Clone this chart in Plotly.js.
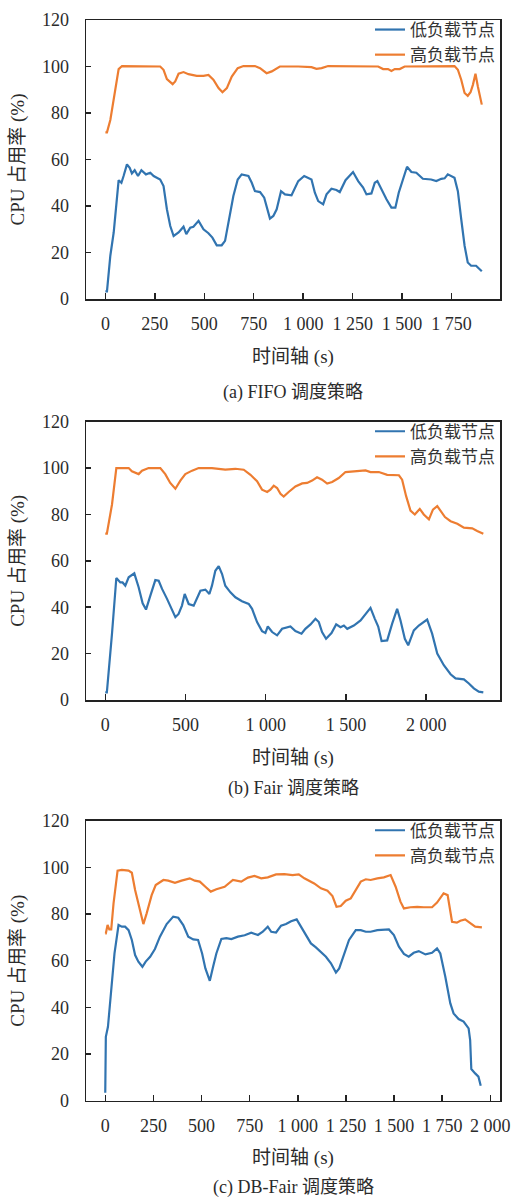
<!DOCTYPE html>
<html>
<head>
<meta charset="utf-8">
<script src="https://cdn.plot.ly/plotly-3.0.1.min.js"></script>
<style>html,body{margin:0;padding:0;background:#fff;}#chart{width:525px;height:1198px;}</style>
</head>
<body>
<div id="chart"></div>
<script>
// ---------- data ----------
const seriesNames = ['低负载节点', '高负载节点'];
const captions = ['(a) FIFO 调度策略', '(b) Fair 调度策略', '(c) DB-Fair 调度策略'];
const xTitle = '时间轴 (s)';
const yTitle = 'CPU 占用率 (%)';

// (a) FIFO
const fifoLowX = [0,8,25,42,67,81,92,109,123,134,148,165,182,205,227,244,277,294,311,328,345,370,395,409,429,445,471,496,521,541,563,588,605,622,647,669,689,723,740,756,782,803,820,832,849,866,888,908,941,975,1005,1042,1059,1076,1101,1118,1143,1168,1185,1214,1252,1278,1303,1320,1345,1362,1375,1395,1421,1446,1466,1483,1505,1525,1547,1572,1605,1647,1673,1698,1715,1731,1765,1782,1799,1816,1832,1849,1874,1903];
const fifoLowY = [3.3,3.3,18.6,28.6,51.1,50,52.9,57.9,56.4,54,55.4,52.9,55.4,53.6,54.3,52.9,51.4,48.6,38.6,31.4,27.1,28.6,31.1,27.9,30.7,31.1,33.6,30,28.3,26.4,23.1,23.1,25,32.9,44.3,51.4,53.6,52.9,50,46.4,46,43.6,37.9,34.6,35.7,38.6,46.4,45,44.6,50.7,52.9,51.4,45.7,42.1,40.7,45,47.4,46.9,46,51.1,54.6,50.7,47.9,45,45.4,50,50.7,47.1,42.9,39.3,39.3,45.7,51.7,56.9,54.6,54.3,51.7,51.4,50.7,51.7,51.9,53.6,52.1,46.4,34.3,22.9,15.7,14.3,14.3,11.9];
const fifoHighX = [0,8,25,50,67,84,151,277,294,311,340,353,370,395,420,462,496,521,546,572,592,614,639,669,698,756,782,815,841,882,975,1042,1067,1093,1126,1379,1404,1429,1446,1463,1488,1513,1765,1782,1799,1816,1832,1846,1858,1871,1883,1903];
const fifoHighY = [71.7,71.7,77,91,98.9,100.2,100.2,100,98.6,94.6,92.4,93.6,96.9,97.6,96.7,96,96,96.4,94.3,90.7,88.9,90.7,95.7,99.3,100.2,100.2,99.3,97.1,97.9,100,100,99.7,99,99.3,100.2,100,98.9,98.9,98.1,98.9,98.9,100,100.2,98.6,94.3,88.6,87.4,88.9,92.1,96.9,91.4,83.6];

// (b) Fair
const fairLowX = [0,10,42,69,94,108,125,146,181,208,233,254,281,312,333,354,385,416,437,457,478,495,520,551,572,593,624,649,665,686,707,728,748,780,811,852,894,915,946,977,998,1013,1040,1071,1102,1154,1185,1223,1247,1279,1310,1331,1351,1376,1410,1439,1466,1487,1508,1549,1591,1622,1653,1680,1701,1722,1757,1788,1819,1840,1867,1888,1923,1954,1985,2006,2037,2069,2110,2152,2183,2235,2266,2297,2328,2356];
const fairLowY = [3.3,3.3,28.6,52.6,50.7,50.7,49.3,52.9,54.6,48.6,41.7,39,45,51.7,51.4,47.9,43.6,39.3,35.7,37.1,40.7,45.7,41.4,40.7,43.6,47.1,47.6,45.7,49.3,55.7,57.7,54.3,49.3,46.4,44.3,42.6,41.4,39.3,33.6,29.7,28.9,31.7,29.3,27.9,30.7,31.7,29.7,28.6,30.7,32.6,35,33.6,29.3,26.4,28.9,32.6,31.4,32.1,30.7,32.1,34.3,36.9,39.7,35,31.7,25.4,25.7,32.9,39.3,34.3,26.4,23.6,30,32.1,33.9,34.7,28.6,20,15,11.1,9.3,8.9,7.1,5,3.6,3.3];
const fairHighX = [0,10,42,69,146,166,208,229,270,343,374,405,437,468,499,541,582,665,748,811,863,905,946,977,1009,1029,1050,1071,1092,1112,1143,1185,1227,1258,1289,1320,1351,1383,1414,1455,1497,1559,1622,1653,1705,1757,1830,1850,1875,1902,1929,1960,1985,2017,2042,2069,2089,2117,2152,2194,2235,2287,2318,2356];
const fairHighY = [71.7,71.7,84.3,100,100,98.6,97.4,98.9,100,100,97.4,93.6,91.1,94.6,97.4,98.9,100,100,99.3,99.7,99.3,97.1,94.3,90.7,89.7,90.7,92.4,91.4,88.9,87.7,89.7,92.1,93.4,93.6,94.6,96,95,93.3,94,95.7,98.3,98.6,99,98.3,98.3,97.1,96.9,95,87.9,81.7,80,82.4,80,77.9,82.1,83.6,81.7,78.9,77.1,76,74.3,74,72.9,71.7];

// (c) DB-Fair
const dbLowX = [0,3,14,31,48,69,86,103,121,138,155,172,193,210,233,258,284,319,353,379,405,431,457,482,503,520,543,560,577,603,629,655,689,724,758,793,818,844,862,887,913,939,965,994,1016,1042,1068,1094,1120,1146,1172,1198,1215,1241,1266,1301,1327,1353,1378,1413,1473,1499,1525,1551,1576,1602,1628,1663,1697,1723,1740,1766,1792,1809,1835,1861,1887,1895,1901,1921,1938,1950];
const dbLowY = [3.4,27.4,31.7,48.9,63.1,75.3,74.6,74.6,73.1,68.9,62.4,59.6,57.4,59.6,61.7,65,70.3,75.7,78.9,78.4,75.3,70.3,69.1,68.9,63.1,56.7,51.4,57.4,63.1,69.3,69.7,69.3,70.3,70.9,72,71,72.4,74.6,72.4,72.1,75,75.7,76.9,77.7,74.6,71,67.4,65.7,63.9,61.7,58.9,54.9,56.7,63.1,68.9,73.1,73.1,72.4,72.4,73.1,73.4,71,66,62.9,61.7,63.4,64.1,62.7,63.4,65.3,63.1,53.1,41.7,37.4,35,33.9,31,26,13.6,11.7,10.3,6.4];
const dbHighX = [0,3,12,21,31,43,64,86,121,138,155,181,198,215,241,262,302,327,362,396,439,465,491,520,548,577,620,663,706,741,775,810,844,887,930,973,1005,1034,1085,1120,1154,1180,1201,1223,1249,1275,1301,1327,1353,1378,1413,1447,1482,1508,1533,1551,1585,1620,1654,1697,1723,1757,1778,1789,1801,1826,1844,1869,1895,1921,1956];
const dbHighY = [71.7,71.7,75.3,73.4,73.4,84.6,98.6,98.9,98.6,97.7,90.3,81.7,75.7,80.3,88.1,92.4,94.6,94.3,93.4,94.3,95.3,94.3,93.9,91.7,89.6,90.6,91.7,94.6,93.9,95.6,96.3,95.3,95.7,97,97.1,96.7,97,95.3,93.1,91,90,87.7,83.1,83.4,85.7,86.7,90.3,93.9,94.9,94.6,95.3,95.7,96.7,91.7,85.3,82.4,82.9,83.1,82.9,82.9,84.9,88.9,88.1,83.1,76.7,76.3,77.1,77.7,76.3,74.6,74.3];

const yTicks = [0, 20, 40, 60, 80, 100, 120];

// ---------- styling ----------
const BLUE = '#3174b0';
const ORANGE = '#ed7d31';
const SERIF = '"Liberation Serif", "Times New Roman", "Noto Sans CJK SC", serif';
const TXT = '#2b2b2b';
const H = 1198;

const panels = [
  {low: [fifoLowX, fifoLowY], high: [fifoHighX, fifoHighY], xr: [-98, 1995], dt: 250, top: 20, bottom: 299, cap: 392},
  {low: [fairLowX, fairLowY], high: [fairHighX, fairHighY], xr: [-120, 2460], dt: 500, top: 421.7, bottom: 700, cap: 788},
  {low: [dbLowX, dbLowY], high: [dbHighX, dbHighY], xr: [-100, 2050], dt: 250, top: 820.7, bottom: 1100.7, cap: 1187}
];

const data = [];
const layout = {
  width: 525, height: H,
  margin: {l: 86, r: 25, t: 0, b: 0},
  paper_bgcolor: '#fff', plot_bgcolor: '#fff',
  separators: '. ',
  font: {family: SERIF, size: 18, color: TXT},
  annotations: []
};

panels.forEach((p, i) => {
  const s = i === 0 ? '' : String(i + 1);
  const legendId = 'legend' + s;
  const xa = 'x' + s, ya = 'y' + s;
  const dom = [1 - p.bottom / H, 1 - p.top / H];
  data.push({x: p.low[0], y: p.low[1], type: 'scatter', mode: 'lines', name: seriesNames[0],
    xaxis: xa, yaxis: ya, legend: legendId, line: {color: BLUE, width: 2.2}});
  data.push({x: p.high[0], y: p.high[1], type: 'scatter', mode: 'lines', name: seriesNames[1],
    xaxis: xa, yaxis: ya, legend: legendId, line: {color: ORANGE, width: 2.2}});

  layout['xaxis' + s] = {
    anchor: ya, domain: [0, 1], range: p.xr, tick0: 0, dtick: p.dt,
    showline: true, mirror: true, linecolor: '#222', linewidth: 1.5,
    ticks: 'inside', ticklen: 6, tickwidth: 1.5, tickcolor: '#222',
    showgrid: false, zeroline: false, separatethousands: true,
    tickfont: {family: SERIF, size: 18, color: TXT}, ticklabelstandoff: 8,
    title: {text: xTitle, font: {family: SERIF, size: 19, color: TXT}, standoff: 16}
  };
  layout['yaxis' + s] = {
    anchor: xa, domain: dom, range: [0, 120], tickvals: yTicks,
    showline: true, mirror: true, linecolor: '#222', linewidth: 1.5,
    ticks: 'inside', ticklen: 5, tickwidth: 1.5, tickcolor: '#222',
    showgrid: false, zeroline: false,
    tickfont: {family: SERIF, size: 18, color: TXT}, ticklabelstandoff: 12,
    title: {text: yTitle, font: {family: SERIF, size: 19, color: TXT}, standoff: 12}
  };
  layout[legendId] = {
    x: 1, xanchor: 'right', y: 1 - (p.top - 8) / H, yanchor: 'top',
    bgcolor: 'rgba(0,0,0,0)', borderwidth: 0,
    font: {family: SERIF, size: 17, color: '#333'}, itemwidth: 30,
    tracegroupgap: 0
  };
  layout.annotations.push({
    text: captions[i], xref: 'paper', yref: 'paper', x: 0.5, y: 1 - p.cap / H,
    xanchor: 'center', yanchor: 'middle', showarrow: false,
    font: {family: SERIF, size: 18, color: TXT}
  });
});

Plotly.newPlot('chart', data, layout, {displayModeBar: false, staticPlot: true});
</script>
</body>
</html>
